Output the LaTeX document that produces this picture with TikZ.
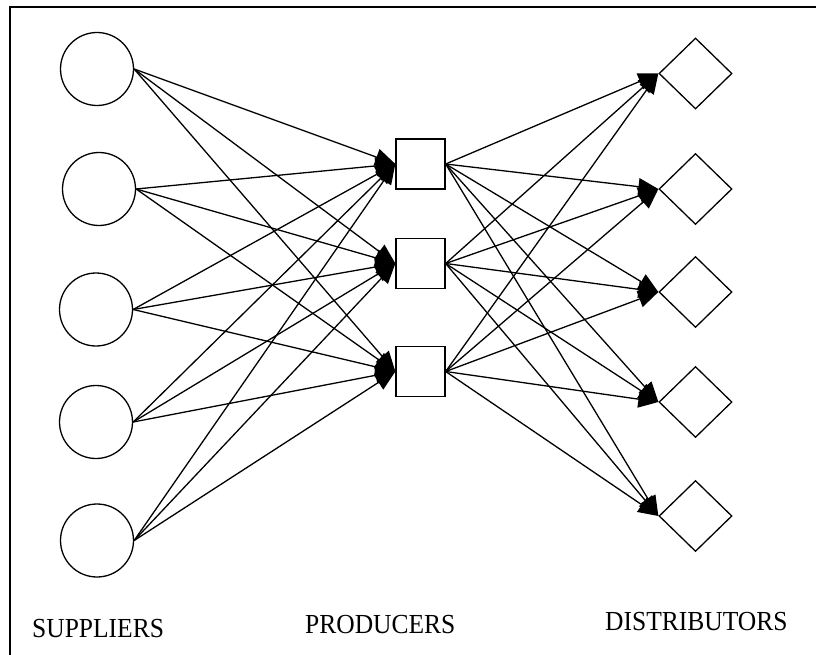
\documentclass[tikz,border=0pt]{standalone}
\usepackage{fontspec}
\setmainfont{Liberation Serif}
\usetikzlibrary{arrows.meta,shapes.geometric}
\begin{document}
\begin{tikzpicture}[x=1pt,y=-1pt,
  supplier/.style={draw,circle,line width=1.3pt,minimum size=73pt,inner sep=0pt},
  producer/.style={draw,rectangle,line width=1.3pt,minimum width=49pt,minimum height=50pt,inner sep=0pt},
  distributor/.style={draw,diamond,line width=1.3pt,minimum width=73pt,minimum height=71pt,inner sep=0pt},
  flow/.style={line width=1.3pt,-{Triangle[length=20pt,width=17pt]}},
  lbl/.style={font=\fontsize{25.5}{28}\selectfont,inner sep=0pt,anchor=base west}]
\useasboundingbox (0,0) rectangle (816,655);
\draw[line width=1.5pt] (10,700) -- (10,7) -- (830,7);
\node[supplier] (s1) at (97,69) {};
\node[supplier] (s2) at (99,189) {};
\node[supplier] (s3) at (96,309.5) {};
\node[supplier] (s4) at (96,422) {};
\node[supplier] (s5) at (97,540.5) {};
\node[producer] (p1) at (420.5,164) {};
\node[producer] (p2) at (420.5,263.5) {};
\node[producer] (p3) at (420.5,371.5) {};
\node[distributor] (d1) at (695.5,73.5) {};
\node[distributor] (d2) at (695.5,189) {};
\node[distributor] (d3) at (695.5,292) {};
\node[distributor] (d4) at (695.5,402) {};
\node[distributor] (d5) at (695.5,516) {};
\foreach \s in {1,...,5}{
  \foreach \p in {1,2,3}{
    \draw[flow] (s\s.east) -- (p\p.west);
  }
}
\foreach \p in {1,2,3}{
  \foreach \d in {1,...,5}{
    \draw[flow] (p\p.east) -- (d\d.west);
  }
}
\node[lbl] (t1) at (32,637) {\scalebox{1}[1.08]{SUPPLIERS}};
\node[lbl] (t2) at (305,633) {\scalebox{1}[1.08]{PRODUCERS}};
\node[lbl] (t3) at (605,630) {\scalebox{1}[1.08]{DISTRIBUTORS}};
\end{tikzpicture}
\end{document}
